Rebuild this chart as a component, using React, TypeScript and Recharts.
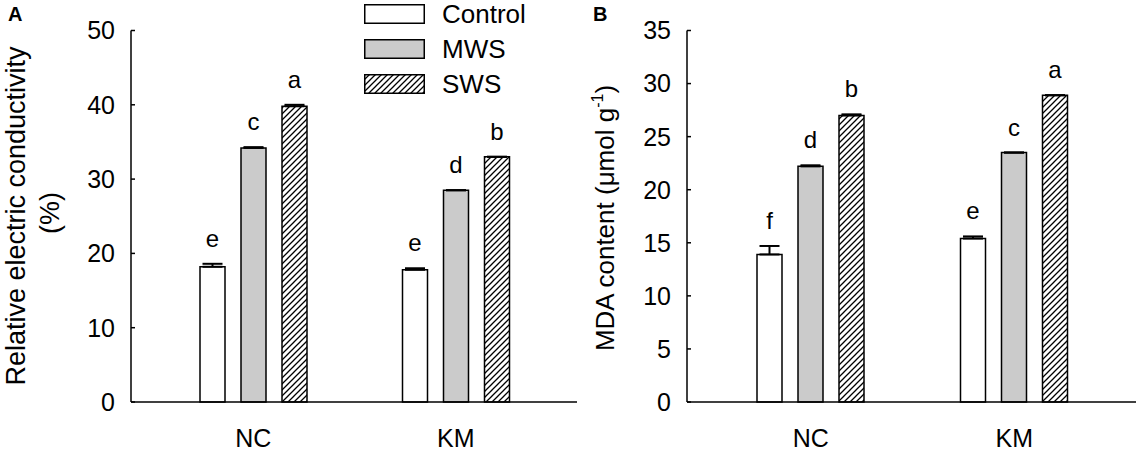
import { BarChart, Bar, XAxis, YAxis, ErrorBar, LabelList } from 'recharts'

const FONT = '"Liberation Sans", Arial, sans-serif'

const categories = ['NC', 'KM']
const seriesNames = ['Control', 'MWS', 'SWS']

// panel A - relative electric conductivity (%)
const ecControl = [18.2, 17.8]
const ecMws = [34.2, 28.5]
const ecSws = [39.8, 33.0]
const ecControlErr = [0.4, 0.2]
const ecMwsErr = [0.1, 0]
const ecSwsErr = [0.2, 0]
const ecControlLetters = ['e', 'e']
const ecMwsLetters = ['c', 'd']
const ecSwsLetters = ['a', 'b']
const ecTicks = [0, 10, 20, 30, 40, 50]

// panel B - MDA content (umol g-1)
const mdaControl = [13.9, 15.4]
const mdaMws = [22.2, 23.5]
const mdaSws = [27.0, 28.9]
const mdaControlErr = [0.8, 0.2]
const mdaMwsErr = [0.1, 0]
const mdaSwsErr = [0.1, 0]
const mdaControlLetters = ['f', 'e']
const mdaMwsLetters = ['d', 'c']
const mdaSwsLetters = ['b', 'a']
const mdaTicks = [0, 5, 10, 15, 20, 25, 30, 35]

type Series = { values: number[]; errors: number[]; letters: string[] }

function buildRows(control: Series, mws: Series, sws: Series) {
  return categories.map((name, i) => ({
    name,
    control: control.values[i],
    mws: mws.values[i],
    sws: sws.values[i],
    controlErr: [0, control.errors[i]],
    mwsErr: [0, mws.errors[i]],
    swsErr: [0, sws.errors[i]],
    controlLet: control.letters[i],
    mwsLet: mws.letters[i],
    swsLet: sws.letters[i],
  }))
}

const ecRows = buildRows(
  { values: ecControl, errors: ecControlErr, letters: ecControlLetters },
  { values: ecMws, errors: ecMwsErr, letters: ecMwsLetters },
  { values: ecSws, errors: ecSwsErr, letters: ecSwsLetters },
)
const mdaRows = buildRows(
  { values: mdaControl, errors: mdaControlErr, letters: mdaControlLetters },
  { values: mdaMws, errors: mdaMwsErr, letters: mdaMwsLetters },
  { values: mdaSws, errors: mdaSwsErr, letters: mdaSwsLetters },
)

const GREY = '#cbcbcb'

function LeftTick(props: any) {
  const { x, y, payload } = props
  return (
    <text x={x} y={y} dy="0.355em" textAnchor="end" fontSize={25} fontFamily={FONT} fill="#000">
      {payload.value}
    </text>
  )
}

function BottomTick(props: any) {
  const { x, y, payload } = props
  return (
    <text x={x} y={y + 45} textAnchor="middle" fontSize={25} fontFamily={FONT} fill="#000">
      {payload.value}
    </text>
  )
}

// letter above each bar, placed above the error bar top
const letterLabel = (values: number[], errors: number[]) => (props: any) => {
  const vb = props.viewBox ?? {}
  const x = props.x ?? vb.x
  const y = props.y ?? vb.y
  const width = props.width ?? vb.width
  const height = Math.abs(props.height ?? vb.height)
  const i = props.index
  const pxPerUnit = values[i] ? height / values[i] : 0
  const top = y - errors[i] * pxPerUnit
  return (
    <text x={x + width / 2} y={top - 17} textAnchor="middle" fontSize={24} fontFamily={FONT} fill="#000">
      {props.value}
    </text>
  )
}

function HatchDef({ id }: { id: string }) {
  return (
    <defs>
      <pattern id={id} patternUnits="userSpaceOnUse" width={6} height={6}>
        <rect width={6} height={6} fill="#fff" />
        <path d="M0,6 L6,0 M-1.5,1.5 L1.5,-1.5 M4.5,7.5 L7.5,4.5" stroke="#000" strokeWidth={1.3} />
      </pattern>
    </defs>
  )
}

function Legend() {
  const fills = ['#fff', GREY, 'url(#hatchA)']
  return (
    <div style={{ position: 'absolute', left: 364, top: -4, fontFamily: FONT, fontSize: 26 }}>
      {seriesNames.map((name, i) => (
        <div key={name} style={{ height: 35, display: 'flex', alignItems: 'center' }}>
          <svg width={61} height={20} style={{ marginRight: 17 }}>
            <rect x={0.75} y={0.75} width={59.5} height={18.5} fill={fills[i]} stroke="#000" strokeWidth={1.5} />
          </svg>
          <span style={{ lineHeight: 1 }}>{name}</span>
        </div>
      ))}
    </div>
  )
}

interface PanelProps {
  rows: ReturnType<typeof buildRows>
  values: number[][]
  errors: number[][]
  ticks: number[]
  hatchId: string
  width: number
  padding: { left: number; right: number }
  label: (props: any) => any
}

function Panel({ rows, values, errors, ticks, hatchId, width, padding, label }: PanelProps) {
  const keys = ['control', 'mws', 'sws']
  const fills = ['#fff', GREY, `url(#${hatchId})`]
  return (
    <BarChart
      width={width}
      height={451}
      data={rows}
      margin={{ top: 30.5, right: 3, left: 0, bottom: 19 }}
      barSize={25}
      barGap={16}
    >
      <HatchDef id={hatchId} />
      <XAxis
        dataKey="name"
        height={30}
        padding={padding}
        axisLine={{ stroke: '#000', strokeWidth: 1.5 }}
        tickLine={false}
        tickSize={0}
        tickMargin={0}
        tick={<BottomTick />}
      />
      <YAxis
        type="number"
        domain={[0, ticks[ticks.length - 1]]}
        ticks={ticks}
        width={131}
        axisLine={{ stroke: '#000', strokeWidth: 1.5 }}
        tickLine={{ stroke: '#000', strokeWidth: 1.5 }}
        tickSize={-4}
        tickMargin={20}
        tick={<LeftTick />}
        label={{ content: label }}
      />
      {keys.map((k, s) => (
        <Bar
          key={k}
          dataKey={k}
          name={seriesNames[s]}
          fill={fills[s]}
          stroke="#000"
          strokeWidth={1.5}
          isAnimationActive={false}
        >
          <ErrorBar
            dataKey={`${k}Err`}
            direction="y"
            width={10}
            stroke="#000"
            strokeWidth={2}
            isAnimationActive={false}
          />
          <LabelList dataKey={`${k}Let`} content={letterLabel(values[s], errors[s])} />
        </Bar>
      ))}
    </BarChart>
  )
}

const ecLabel = () => (
  <g fontFamily={FONT} fill="#000">
    <text x={8} y={21} fontSize={20} fontWeight="bold">A</text>
    <text x={15} y={216} dy="0.355em" textAnchor="middle" fontSize={27} transform="rotate(-90 15 216)">
      Relative electric conductivity
    </text>
    <text x={49} y={213} dy="0.355em" textAnchor="middle" fontSize={27} transform="rotate(-90 49 213)">
      (%)
    </text>
  </g>
)

const mdaLabel = () => (
  <g fontFamily={FONT} fill="#000">
    <text x={37} y={21} fontSize={20} fontWeight="bold">B</text>
    <text x={49} y={218} dy="0.355em" textAnchor="middle" fontSize={26} transform="rotate(-90 49 218)">
      MDA content (μmol g
      <tspan dy={-11} fontSize={16}>-1</tspan>
      <tspan dy={11}>)</tspan>
    </text>
  </g>
)

export default function App() {
  return (
    <div style={{ position: 'absolute', left: 0, top: 0, width: 1143, height: 451, background: '#fff' }}>
      <div style={{ position: 'absolute', left: 0, top: 0 }}>
        <Panel
          rows={ecRows}
          values={[ecControl, ecMws, ecSws]}
          errors={[ecControlErr, ecMwsErr, ecSwsErr]}
          ticks={ecTicks}
          hatchId="hatchA"
          width={580}
          padding={{ left: 21, right: 20 }}
          label={ecLabel}
        />
      </div>
      <div style={{ position: 'absolute', left: 556, top: 0 }}>
        <Panel
          rows={mdaRows}
          values={[mdaControl, mdaMws, mdaSws]}
          errors={[mdaControlErr, mdaMwsErr, mdaSwsErr]}
          ticks={mdaTicks}
          hatchId="hatchB"
          width={583}
          padding={{ left: 22, right: 20 }}
          label={mdaLabel}
        />
      </div>
      <Legend />
    </div>
  )
}
